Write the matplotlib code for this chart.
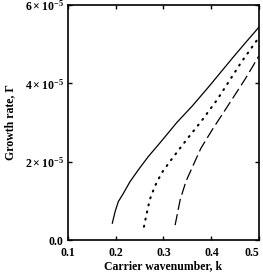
import matplotlib
matplotlib.use("Agg")
import matplotlib.pyplot as plt
import numpy as np

plt.rcParams['font.family'] = ['Liberation Serif', 'DejaVu Serif']
plt.rcParams['font.weight'] = 'bold'
plt.rcParams['mathtext.fontset'] = 'custom'
plt.rcParams['mathtext.rm'] = 'Liberation Serif:bold'
plt.rcParams['mathtext.bf'] = 'Liberation Serif:bold'
plt.rcParams['mathtext.it'] = 'Liberation Serif:bold'

# Data, growth rate in units of 1e-5
k_solid = [0.1933, 0.1990, 0.2058, 0.2163, 0.2302, 0.2475, 0.2683, 0.2927,
           0.3279, 0.3600, 0.3950, 0.4450, 0.4700, 0.4990]
g_solid = [0.43, 0.72, 0.98, 1.19, 1.49, 1.79, 2.13, 2.48,
           3.00, 3.42, 3.92, 4.66, 5.02, 5.43]
k_dot = [0.2593, 0.2644, 0.2714, 0.2820, 0.2961, 0.3138, 0.3349, 0.3540,
         0.3800, 0.4125, 0.4619, 0.4950]
g_dot = [0.34, 0.64, 1.03, 1.37, 1.71, 2.01, 2.35, 2.65, 3.05, 3.59, 4.53, 5.10]
k_dash = [0.3243, 0.3349, 0.3470, 0.3580, 0.3780, 0.4020, 0.4250, 0.4478,
          0.4700, 0.4866, 0.4990]
g_dash = [0.38, 1.03, 1.50, 1.80, 2.34, 2.82, 3.25, 3.68, 4.10, 4.44, 4.70]

xticks = [0.1, 0.2, 0.3, 0.4, 0.5]
xticklabels = ['0.1', '0.2', '0.3', '0.4', '0.5']
yticks = [0, 2e-5, 4e-5, 6e-5]
yticklabels = ['0.0', r'$2\times10^{-5}$', r'$4\times10^{-5}$', r'$6\times10^{-5}$']

fig = plt.figure(figsize=(2.63, 2.75), dpi=100)
ax = fig.add_axes([0.257, 0.127, 0.729, 0.855])

ax.plot(k_solid, np.array(g_solid) * 1e-5, color='black', lw=0.9, ls='-')
ax.plot(k_dot, np.array(g_dot) * 1e-5, color='black', lw=1.5, ls=(0, (0.5, 3.0)),
        dash_capstyle='round')
ax.plot(k_dash, np.array(g_dash) * 1e-5, color='black', lw=0.9, ls=(0, (9, 3.5)))

ax.set_xlim(0.1, 0.5)
ax.set_ylim(0, 6e-5)
ax.set_xticks(xticks)
ax.set_xticklabels(xticklabels)
ax.set_yticks(yticks)
ax.set_yticklabels(yticklabels)
ax.tick_params(direction='in', length=3, width=1, labelsize=8.5, right=True, top=True)
ax.tick_params(axis='x', pad=5)
ax.tick_params(axis='y', pad=3)
ax.get_xticklabels()[-1].set_horizontalalignment('right')
ax.get_xticklabels()[-1].set_x(0.5)
for s in ax.spines.values():
    s.set_linewidth(1.2)
ax.set_xlabel('Carrier wavenumber, k', fontsize=8.5, fontweight='bold', labelpad=1)
ax.set_ylabel('Growth rate, Γ', fontsize=8.5, fontweight='bold', labelpad=6)

fig.savefig('out.png', dpi=100)
